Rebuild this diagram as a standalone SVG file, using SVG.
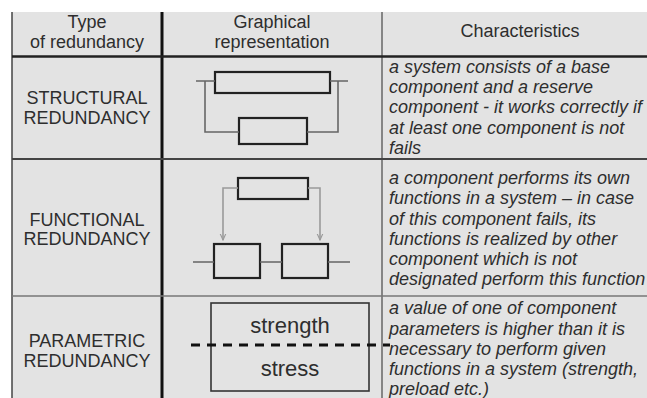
<svg xmlns="http://www.w3.org/2000/svg" width="647" height="398" viewBox="0 0 647 398">
<defs>
<style>
.t{font-family:"Liberation Sans",Arial,sans-serif;font-size:18px;fill:#2e2e2e}
.c{text-anchor:middle}
.i{font-style:italic}
.box{fill:none;stroke:#222;stroke-width:2.2}
.wire{fill:none;stroke:#666;stroke-width:1.6}
.arr{fill:none;stroke:#9a9a9a;stroke-width:1.6}
.big{font-family:"Liberation Sans",Arial,sans-serif;font-size:22px;fill:#2e2e2e;text-anchor:middle}
</style>
<marker id="ah" viewBox="0 0 10 10" refX="9" refY="5" markerWidth="7" markerHeight="9" orient="auto" markerUnits="userSpaceOnUse">
<path d="M0,1 L9,5 L0,9" fill="none" stroke="#9a9a9a" stroke-width="1.6"/>
</marker>
</defs>
<rect x="0" y="0" width="647" height="398" fill="#ffffff"/>
<rect x="12" y="12" width="635" height="386" fill="#e3e3e3"/>
<g id="grid">
<line x1="12" y1="12" x2="12" y2="398" stroke="#444" stroke-width="1.5"/>
<line x1="162" y1="12" x2="162" y2="398" stroke="#111" stroke-width="3"/>
<line x1="382" y1="12" x2="382" y2="398" stroke="#666" stroke-width="1.5"/>
<line x1="12" y1="56.5" x2="647" y2="56.5" stroke="#222" stroke-width="2.5"/>
<line x1="12" y1="159" x2="647" y2="159" stroke="#444" stroke-width="2"/>
<line x1="12" y1="296" x2="647" y2="296" stroke="#777" stroke-width="1.5"/>
</g>
<g id="header">
<text class="t c" x="87" y="28">Type</text>
<text class="t c" x="87" y="48">of redundancy</text>
<text class="t c" x="272" y="28">Graphical</text>
<text class="t c" x="272" y="48">representation</text>
<text class="t c" x="520" y="37">Characteristics</text>
</g>
<g id="type-structural">
<text class="t c" x="87" y="104">STRUCTURAL</text>
<text class="t c" x="87" y="124">REDUNDANCY</text>
</g>
<g id="type-functional">
<text class="t c" x="87" y="226">FUNCTIONAL</text>
<text class="t c" x="87" y="245">REDUNDANCY</text>
</g>
<g id="type-parametric">
<text class="t c" x="87" y="347">PARAMETRIC</text>
<text class="t c" x="87" y="367">REDUNDANCY</text>
</g>
<g id="graphic-structural">
<rect class="box" x="215" y="72" width="115" height="21"/>
<rect class="box" x="239" y="118" width="68" height="26"/>
</g>
<g id="graphic-functional">
<rect class="box" x="238" y="178" width="70" height="21"/>
<rect class="box" x="214" y="244" width="46" height="34"/>
<rect class="box" x="282" y="244" width="46" height="34"/>
</g>
<g id="graphic-parametric">
<rect x="211" y="303" width="158" height="88" fill="none" stroke="#333" stroke-width="1.6"/>
<text class="big" x="290" y="333">strength</text>
<text class="big" x="290" y="376">stress</text>
<line x1="191" y1="345" x2="390" y2="345" stroke="#111" stroke-width="3" stroke-dasharray="9 7"/>
</g>
<g id="connectors">
<path class="wire" d="M196,81 H215 M330,81 H348"/>
<path class="wire" d="M205,81 V132 H239 M307,132 H338 V81"/>
<path class="arr" d="M238,188 H223 V240" marker-end="url(#ah)"/>
<path class="arr" d="M308,188 H320 V240" marker-end="url(#ah)"/>
<path class="wire" d="M193,262 H214 M260,262 H282 M328,262 H350" stroke="#888"/>
</g>
<g id="char-structural">
<text class="t i" x="389" y="73">a system consists of a base</text>
<text class="t i" x="389" y="93">component and a reserve</text>
<text class="t i" x="389" y="113">component - it works correctly if</text>
<text class="t i" x="389" y="134">at least one component is not</text>
<text class="t i" x="389" y="154">fails</text>
</g>
<g id="char-functional">
<text class="t i" x="389" y="184">a component performs its own</text>
<text class="t i" x="389" y="204">functions in a system – in case</text>
<text class="t i" x="389" y="225">of this component fails, its</text>
<text class="t i" x="389" y="245">functions is realized by other</text>
<text class="t i" x="389" y="265">component which is not</text>
<text class="t i" x="389" y="285">designated perform this function</text>
</g>
<g id="char-parametric">
<text class="t i" x="389" y="314">a value of one of component</text>
<text class="t i" x="389" y="335">parameters is higher than it is</text>
<text class="t i" x="389" y="355">necessary to perform given</text>
<text class="t i" x="389" y="375">functions in a system (strength,</text>
<text class="t i" x="389" y="395">preload etc.)</text>
</g>
</svg>
